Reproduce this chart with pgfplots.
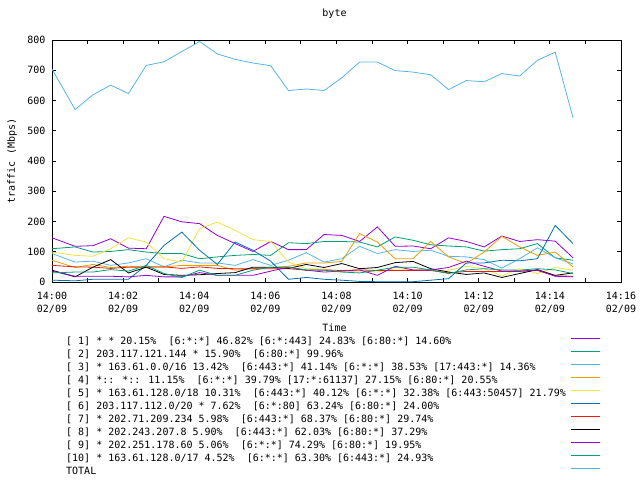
\documentclass[border=0pt]{standalone}
\usepackage{fontspec}
\setmainfont{DejaVu Sans Mono}
\usepackage{pgfplots}
\pgfplotsset{compat=1.18}
\usepackage{pgfplotstable}

\definecolor{gpviolet}{HTML}{9400D3}
\definecolor{gpgreen}{HTML}{009E73}
\definecolor{gpsky}{HTML}{56B4E9}
\definecolor{gporange}{HTML}{E69F00}
\definecolor{gpyellow}{HTML}{F0E442}
\definecolor{gpblue}{HTML}{0072B2}
\definecolor{gpred}{HTML}{E51E10}

% minutes after 14:00, Mbps
\pgfplotstableread{
t     s1  s2  s3  s4  s5  s6  s7  s8  s9  s10 total
0     146 110 94  72  99  6   55  39  36  30  704
0.65  118 116 66  48  88  4   50  17  19  33  570
1.15  120 99  69  58  85  9   49  49  19  33  619
1.65  143 101 55  48  110 9   45  74  19  41  651
2.15  112 107 63  52  146 9   49  30  17  36  623
2.65  110 99  77  50  132 55  49  49  22  55  716
3.15  217 94  50  50  77  121 50  25  17  28  728
3.65  199 94  72  55  66  165 45  22  17  15  762
4.15  193 77  63  55  176 105 50  24  31  39  795
4.65  154 83  63  55  198 58  45  28  22  22  754
5.15  127 88  55  39  171 132 44  31  22  22  736
5.65  101 91  74  44  140 105 44  49  22  39  724
6.15  134 88  55  48  134 69  44  49  36  49  715
6.65  107 130 72  52  66  9   44  45  49  49  633
7.15  107 127 97  63  44  15  39  58  39  40  638
7.65  157 134 66  63  43  9   40  48  33  39  633
8.15  154 134 77  68  33  6   38  61  36  33  675
8.65  134 132 118 160 36  2   40  44  40  30  727
9.15  182 116 94  132 33  1   38  48  22  39  727
9.65  118 149 107 77  43  1   38  64  52  49  699
10.15 119 138 101 77  42  1   38  68  40  49  694
10.65 110 123 105 134 39  6   38  44  40  40  685
11.15 146 119 85  83  39  11  30  33  48  28  636
11.65 134 116 83  61  52  63  35  25  69  40  666
12.15 116 102 74  99  44  63  35  30  52  44  662
12.65 152 107 46  151 20  72  35  15  36  40  689
13.15 134 110 77  116 44  70  35  28  36  39  681
13.65 140 127 113 88  28  77  38  41  40  44  733
14.15 135 80  80  99  48  187 20  22  19  40  760
14.65 80  72  60  50  39  127 19  30  17  28  543
}\traffic

\begin{document}
\begin{tikzpicture}
\useasboundingbox (-52bp,-198bp) rectangle (588bp,282bp);
\begin{axis}[
    scale only axis,
    width=569bp,
    height=242bp,
    xmin=0, xmax=16,
    ymin=0, ymax=800,
    xtick={0,2,...,16},
    minor xtick={1,3,...,15},
    ytick={0,100,...,800},
    xticklabels={{14:00\\02/09},{14:02\\02/09},{14:04\\02/09},{14:06\\02/09},
        {14:08\\02/09},{14:10\\02/09},{14:12\\02/09},{14:14\\02/09},{14:16\\02/09}},
    tick align=inside,
    major tick length=4bp,
    minor tick length=4bp,
    axis line style={line width=0.9bp},
    every tick/.style={black, line width=0.9bp},
    /pgf/number format/assume math mode=true,
    font=\fontsize{10bp}{13bp}\selectfont,
    xticklabel style={align=center, anchor=north, yshift=-6.5bp},
    yticklabel style={anchor=east, xshift=-3bp},
    title={byte},
    title style={at={(axis description cs:0.4965,1)}, anchor=center, yshift=20bp},
    xlabel={Time},
    xlabel style={at={(axis description cs:0.4965,-0.19)}, anchor=center},
    ylabel={traffic (Mbps)},
    ylabel style={at={(axis description cs:-0.0703,0.5)}, anchor=center},
    legend plot pos=right,
    legend cell align=left,
    legend image code/.code={\draw[#1] (0bp,3.5bp) -- (29bp,3.5bp);},
    legend style={
        at={(axis description cs:0,0)}, anchor=north west,
        xshift=11bp, yshift=-51bp,
        draw=none, fill=none,
        font=\fontsize{10bp}{13bp}\selectfont,
        row sep=0pt, column sep=5bp,
        nodes={inner sep=0pt, minimum height=13bp},
    },
    every axis plot/.append style={no marks, line width=0.8bp},
]
\addplot[gpviolet] table[x=t, y=s1] {\traffic};
\addlegendentry{[~1] * * 20.15\%~~[6:*:*] 46.82\% [6:*:443] 24.83\% [6:80:*] 14.60\%}
\addplot[gpgreen] table[x=t, y=s2] {\traffic};
\addlegendentry{[~2] 203.117.121.144 * 15.90\%~~[6:80:*] 99.96\%}
\addplot[gpsky] table[x=t, y=s3] {\traffic};
\addlegendentry{[~3] * 163.61.0.0/16 13.42\%~~[6:443:*] 41.14\% [6:*:*] 38.53\% [17:443:*] 14.36\%}
\addplot[gporange] table[x=t, y=s4] {\traffic};
\addlegendentry{[~4] *:: *:: 11.15\%~~[6:*:*] 39.79\% [17:*:61137] 27.15\% [6:80:*] 20.55\%}
\addplot[gpyellow] table[x=t, y=s5] {\traffic};
\addlegendentry{[~5] * 163.61.128.0/18 10.31\%~~[6:443:*] 40.12\% [6:*:*] 32.38\% [6:443:50457] 21.79\%}
\addplot[gpblue] table[x=t, y=s6] {\traffic};
\addlegendentry{[~6] 203.117.112.0/20 * 7.62\%~~[6:*:80] 63.24\% [6:80:*] 24.00\%}
\addplot[gpred] table[x=t, y=s7] {\traffic};
\addlegendentry{[~7] * 202.71.209.234 5.98\%~~[6:443:*] 68.37\% [6:80:*] 29.74\%}
\addplot[black] table[x=t, y=s8] {\traffic};
\addlegendentry{[~8] * 202.243.207.8 5.90\%~~[6:443:*] 62.03\% [6:80:*] 37.29\%}
\addplot[gpviolet] table[x=t, y=s9] {\traffic};
\addlegendentry{[~9] * 202.251.178.60 5.06\%~~[6:*:*] 74.29\% [6:80:*] 19.95\%}
\addplot[gpgreen] table[x=t, y=s10] {\traffic};
\addlegendentry{[10] * 163.61.128.0/17 4.52\%~~[6:*:*] 63.30\% [6:443:*] 24.93\%}
\addplot[gpsky] table[x=t, y=total] {\traffic};
\addlegendentry{TOTAL}
\end{axis}
\end{tikzpicture}
\end{document}
